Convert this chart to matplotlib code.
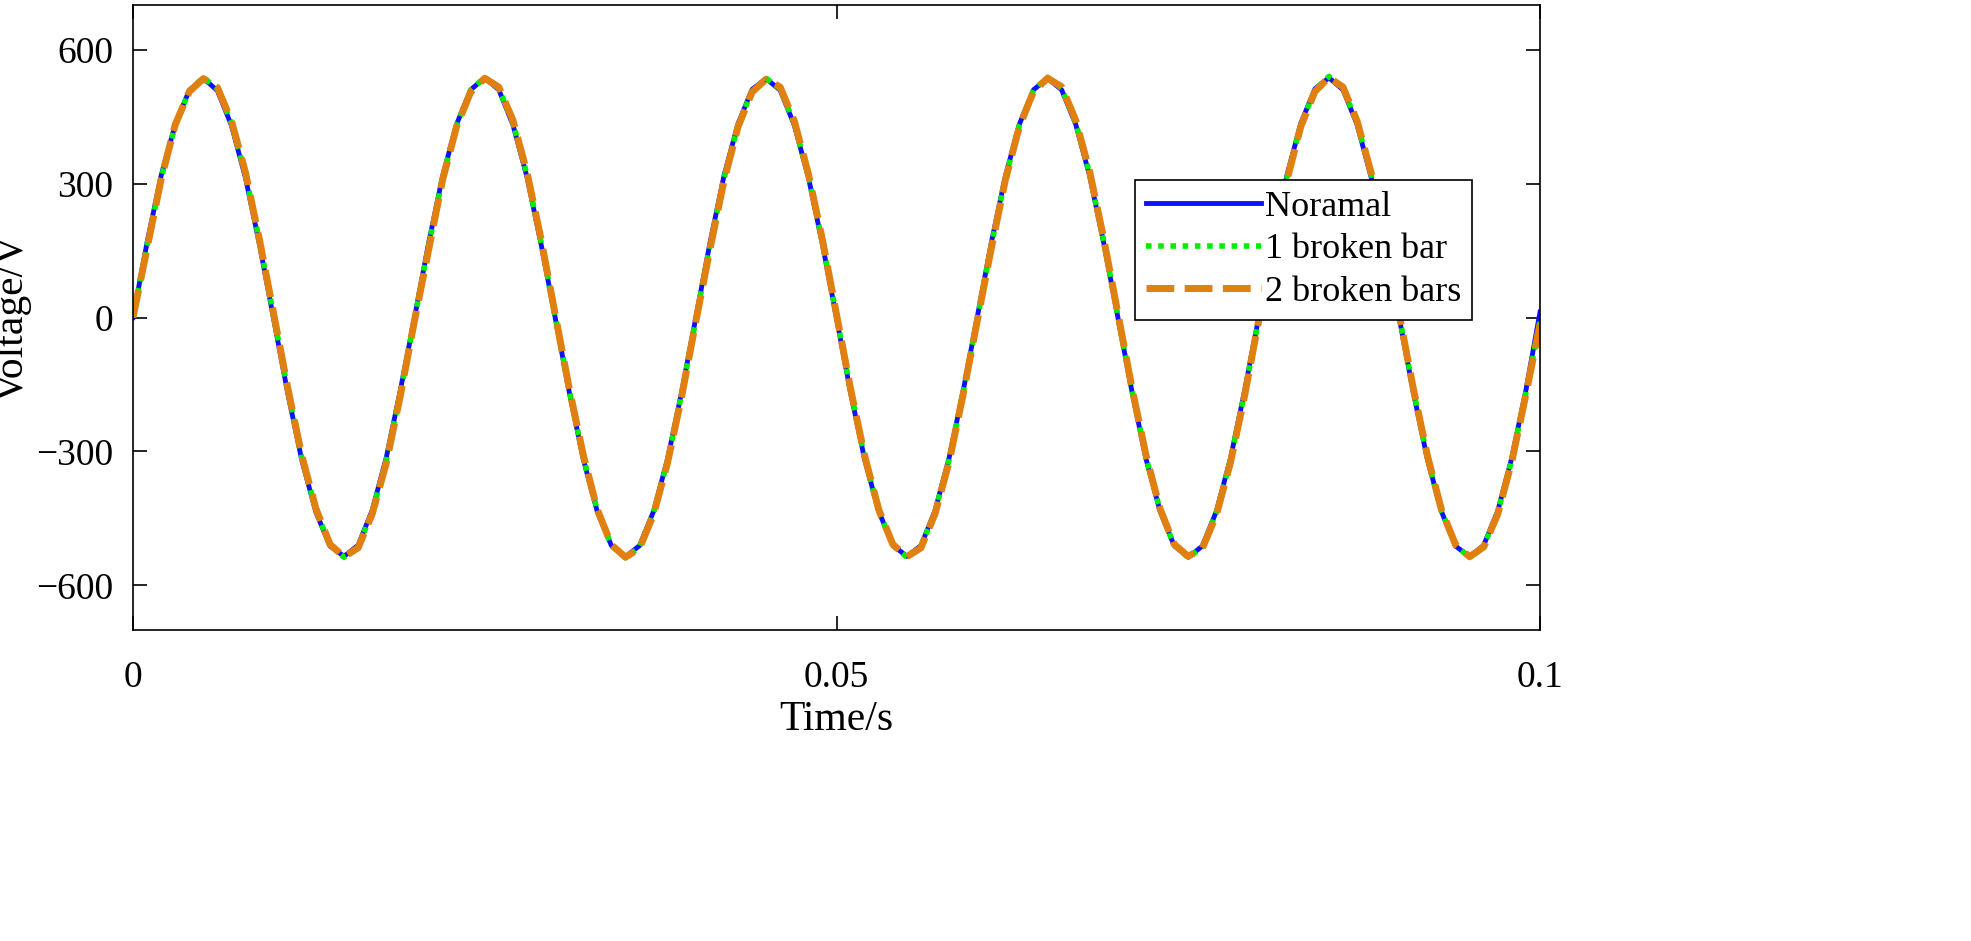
import matplotlib.pyplot as plt
import numpy as np

plt.rcParams['font.family'] = ['Liberation Serif', 'DejaVu Serif']

# time in s, 1 ms steps
t = [i * 0.001 for i in range(101)]

noramal = [0, 168, 318, 432, 509, 536, 508, 430, 312, 162, -4, -170, -320, -436, -512, -535, -510, -432, -314, -163,
           -2, 165, 316, 433, 510, 537, 510, 432, 315, 165, 1, -166, -317, -435, -511, -536, -511, -434, -316, -166,
           -1, 166, 317, 434, 511, 535, 509, 431, 314, 164, -1, -168, -318, -434, -510, -535, -511, -433, -315, -165,
           0, 167, 316, 433, 510, 536, 510, 433, 316, 166, 0, -166, -317, -434, -511, -537, -512, -434, -316, -165,
           -1, 166, 317, 435, 512, 537, 510, 432, 314, 163, -2, -168, -318, -435, -512, -536, -510, -433, -314, -163,
           12]
broken1 = [0, 160, 312, 430, 508, 538, 512, 436, 320, 170, 4, -162, -314, -432, -510, -537, -513, -437, -320, -170,
           -4, 160, 312, 430, 509, 538, 513, 436, 320, 170, 5, -162, -313, -432, -511, -538, -514, -437, -320, -170,
           -5, 160, 311, 430, 508, 536, 512, 435, 318, 169, 4, -163, -314, -433, -510, -537, -513, -436, -319, -169,
           -4, 161, 312, 431, 509, 538, 513, 436, 320, 170, 4, -162, -313, -432, -510, -538, -514, -437, -320, -170,
           -5, 160, 312, 431, 510, 540, 513, 436, 320, 168, 3, -163, -315, -433, -511, -537, -512, -436, -318, -168,
           -10]
broken2 = [0, 155, 310, 432, 506, 535, 515, 440, 324, 172, 8, -158, -310, -428, -508, -536, -516, -440, -326, -175,
           -8, 150, 308, 428, 505, 536, 516, 442, 325, 176, 8, -158, -308, -430, -509, -537, -517, -441, -324, -176,
           -9, 152, 306, 427, 505, 534, 516, 440, 322, 174, 7, -160, -310, -430, -508, -536, -516, -440, -324, -172,
           -8, 155, 308, 428, 506, 536, 517, 442, 326, 175, 9, -158, -309, -429, -508, -535, -517, -442, -325, -176,
           -8, 153, 306, 428, 506, 538, 516, 440, 324, 172, 6, -160, -310, -431, -509, -536, -514, -440, -322, -172,
           -15]

fig = plt.figure(figsize=(19.71, 9.41), dpi=100)
ax = fig.add_axes([133/1971, 1 - 630/941, 1407/1971, 625/941])

ax.plot(t, noramal, color='#1010ff', lw=3.5, label='Noramal')
ax.plot(t, broken1, color='#00ee00', lw=4, ls=(0, (1, 1.2)), label='1 broken bar')
ax.plot(t, broken2, color='#e08010', lw=5, ls=(0, (4, 1.5)), label='2 broken bars')

ax.set_xlim(0, 0.1)
ax.set_ylim(-700, 700)
ax.set_xticks([0, 0.05, 0.1])
ax.set_xticklabels(['0', '0.05', '0.1'])
ax.set_yticks([-600, -300, 0, 300, 600])
ax.set_yticklabels(['\u2212600', '\u2212300', '0', '300', '600'])
ax.tick_params(direction='in', length=10, width=1.2, labelsize=27, top=True, right=True)
ax.tick_params(axis='x', pad=22)
ax.tick_params(axis='y', pad=14)
for s in ax.spines.values():
    s.set_linewidth(1.2)
ax.set_xlabel('Time/s', fontsize=30, labelpad=4)
ax.set_ylabel('Voltage/V', fontsize=30)
ax.yaxis.set_label_coords(-0.072, 0.5)

leg = ax.legend(loc='upper left', bbox_to_anchor=(0.712, 0.72), fontsize=26, fancybox=False,
                framealpha=1, edgecolor='black', handlelength=3.2, borderpad=0.3, labelspacing=0.25,
                handletextpad=0.1, borderaxespad=0)
leg.get_frame().set_linewidth(1.2)

fig.savefig('out.png', dpi=100)
